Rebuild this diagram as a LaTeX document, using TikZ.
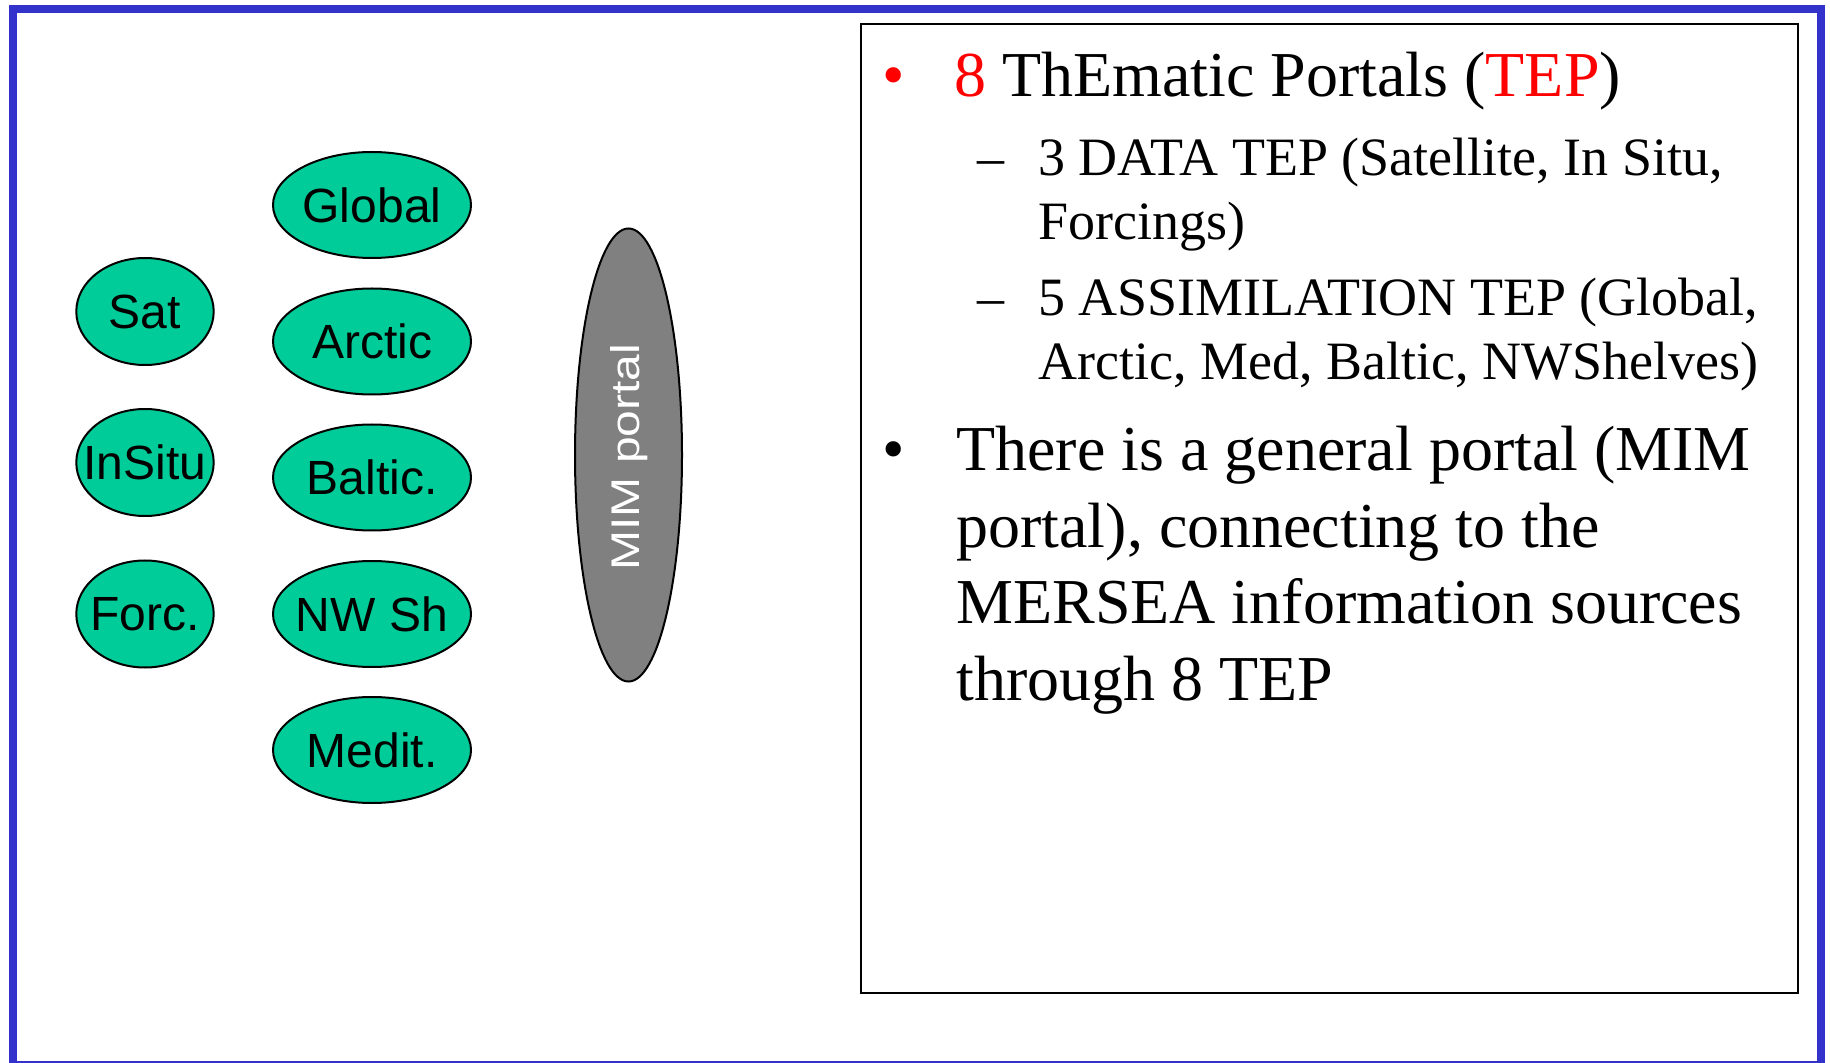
\documentclass[tikz,border=0pt]{standalone}
\usepackage{fontspec}
\usetikzlibrary{shapes.geometric}
\newfontfamily\sansA{Liberation Sans}
\newfontfamily\serifA{Liberation Serif}
\definecolor{tepgreen}{RGB}{0,204,153}
\definecolor{frameblue}{RGB}{51,51,204}
\definecolor{portalgray}{RGB}{128,128,128}
\begin{document}
\begin{tikzpicture}[x=0.5pt,y=-0.5pt,
  tepnode/.style={ellipse,draw=black,line width=1pt,fill=tepgreen,inner sep=0pt,
    font=\sansA\fontsize{24}{24}\selectfont},
  smallep/.style={tepnode,minimum width=68.7pt,minimum height=53.5pt},
  bigep/.style={tepnode,minimum width=99pt,minimum height=53pt},
  portalnode/.style={ellipse,draw=black,line width=1pt,fill=portalgray,inner sep=0pt,
    minimum width=53.5pt,minimum height=226.5pt},
  bigline/.style={anchor=base west,inner sep=0pt,font=\serifA\fontsize{32}{32}\selectfont},
  subline/.style={anchor=base west,inner sep=0pt,font=\serifA\fontsize{27}{27}\selectfont}]
\useasboundingbox (0,0) rectangle (1830,1063);
\fill[white] (0,0) rectangle (1830,1063);
% outer frame
\draw[frameblue,line width=4pt] (13,9) rectangle (1821,1065);
% text box
\draw[black,line width=1.1pt] (861,24) rectangle (1798,993);

% left column
\node[smallep] (sat) at (145,311.5) {\makebox[0pt]{Sat}};
\node[smallep] (insitu) at (145,462.5) {\makebox[0pt]{InSitu}};
\node[smallep] (forc) at (145,614) {\makebox[0pt]{Forc.}};
% right column
\node[bigep] (global) at (372,205) {\makebox[0pt]{Global}};
\node[bigep] (arctic) at (372,341.5) {\makebox[0pt]{Arctic}};
\node[bigep] (baltic) at (372,477.5) {\makebox[0pt]{Baltic.}};
\node[bigep] (nwsh) at (372,614) {\makebox[0pt]{NW Sh}};
\node[bigep] (medit) at (372,750) {\makebox[0pt]{Medit.}};
% MIM portal
\node[portalnode] (mim) at (628.5,455) {};
\node[rotate=90,inner sep=0pt,text=white,font=\sansA\fontsize{20}{20}\selectfont] (mimlabel) at (629,457) {\scalebox{1.2}[1]{MIM portal}};

% bullet text
\node[bigline,text=red] (b1) at (882,97) {•};
\node[bigline] (t1) at (954,97) {{\color{red}8} ThEmatic Portals ({\color{red}TEP})};
\node[subline] (d1) at (977,176) {–};
\node[subline] (t2) at (1038,176) {3 DATA TEP (Satellite, In Situ,};
\node[subline] (t3) at (1038,240) {Forcings)};
\node[subline] (d2) at (977,316) {–};
\node[subline] (t4) at (1038,316) {5 ASSIMILATION TEP (Global,};
\node[subline] (t5) at (1038,380) {Arctic, Med, Baltic, NWShelves)};
\node[bigline] (b2) at (882,471) {•};
\node[bigline] (t6) at (956,471) {There is a general portal (MIM};
\node[bigline] (t7) at (956,547) {portal), connecting to the};
\node[bigline] (t8) at (956,623) {MERSEA information sources};
\node[bigline] (t9) at (956,700) {through 8 TEP};
\end{tikzpicture}
\end{document}
